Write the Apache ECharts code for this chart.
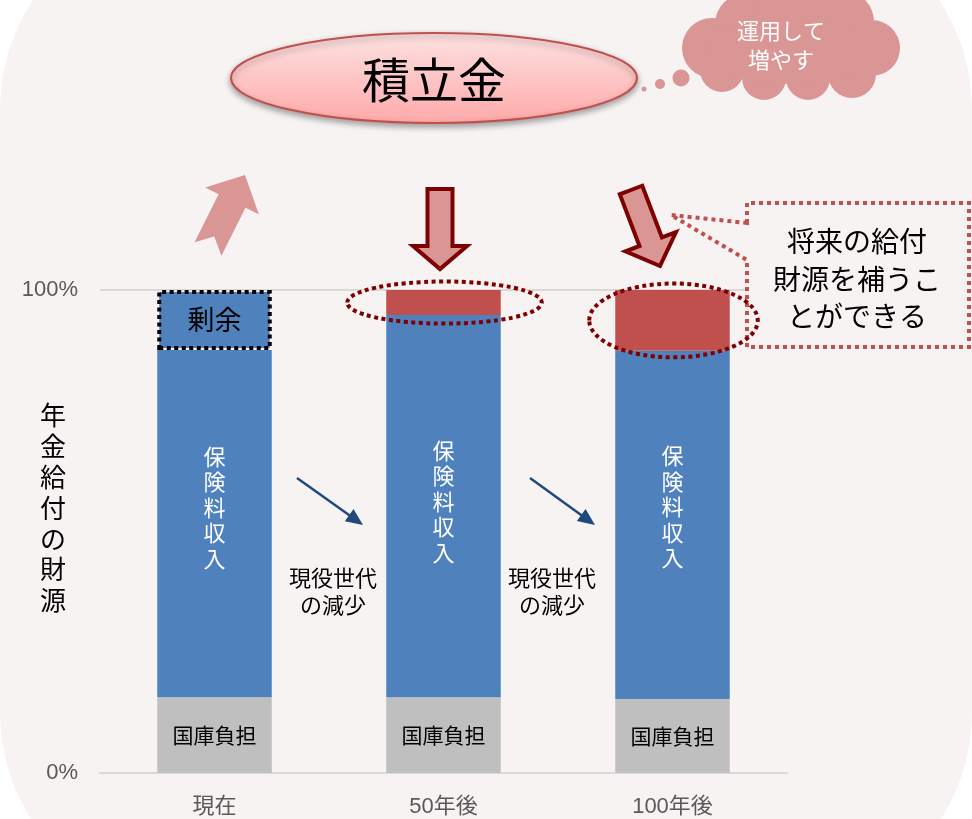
<!DOCTYPE html>
<html>
<head>
<meta charset="utf-8">
<script src="https://cdn.jsdelivr.net/npm/echarts@6/dist/echarts.min.js"></script>
<style>
  html, body { margin: 0; padding: 0; background: #ffffff; }
  #chart { width: 972px; height: 819px; }
</style>
</head>
<body>
<div id="chart"></div>
<script>
// 年金給付の財源（%）
const categories = ['現在', '50年後', '100年後'];
const kokkoFutan = [15.7, 15.7, 15.3];      // 国庫負担
const hokenryoShunyu = [71.9, 79.1, 72.1];  // 保険料収入
const joyo = [12.4, null, null];            // 剰余
const tsumitateHojyu = [null, 5.2, 12.6];   // 積立金で補う分
const yTickValues = [0, 100];

const FONT = '"Noto Sans CJK JP", "Noto Sans", sans-serif';
const NUM_FONT = '"Liberation Sans", "Noto Sans CJK JP", sans-serif';
const BLUE = '#4f81bd', RED = '#c0504d', GRAY = '#bfbfbf';
const PINK = '#d99694', DARK_RED = '#7f0000', NAVY = '#1f497d';
const PANEL = '#f8f3f3';

// vertical label offsets for the 保険料収入 text, one per column
const verticalLabelShift = [-16, -5, -18];
// extra horizontal reach of the dotted rings around the red blocks
const ringPadX = [0, 40, 27];
const ringPadY = [0, 8.5, 6.5];

const chart = echarts.init(document.getElementById('chart'), null, { renderer: 'canvas' });

const vert = s => s.split('').join('\n');

chart.setOption({
  animation: false,
  backgroundColor: '#ffffff',
  grid: { left: 100, right: 185, top: 290, bottom: 46 },
  xAxis: {
    type: 'category',
    data: categories,
    axisTick: { show: false },
    axisLine: { lineStyle: { color: '#d9d9d9', width: 2 } },
    axisLabel: { color: '#595959', fontSize: 22, fontFamily: NUM_FONT, margin: 23 }
  },
  yAxis: {
    type: 'value',
    min: yTickValues[0],
    max: yTickValues[yTickValues.length - 1],
    interval: yTickValues[1] - yTickValues[0],
    axisLine: { show: false },
    axisTick: { show: false },
    splitLine: { lineStyle: { color: '#d9d9d9', width: 2 } },
    axisLabel: { color: '#595959', fontSize: 22, fontFamily: NUM_FONT, margin: 22, formatter: '{value}%' }
  },
  series: [
    {
      name: '国庫負担', type: 'bar', stack: 'zaigen', barWidth: '50%',
      data: kokkoFutan,
      itemStyle: { color: GRAY },
      label: { show: true, position: 'inside', formatter: '国庫負担', color: '#000', fontSize: 21, fontFamily: FONT }
    },
    {
      name: '保険料収入', type: 'bar', stack: 'zaigen',
      data: hokenryoShunyu.map((v, i) => ({
        value: v,
        label: { offset: [0, verticalLabelShift[i]] }
      })),
      itemStyle: { color: BLUE },
      label: {
        show: true, position: 'inside', formatter: vert('保険料収入'),
        color: '#fff', fontSize: 22, lineHeight: 25.5, fontFamily: FONT
      }
    },
    {
      name: '剰余', type: 'bar', stack: 'zaigen',
      data: joyo.map(v => (v == null ? '-' : v)),
      itemStyle: { color: BLUE, borderColor: '#000', borderWidth: 4, borderType: [4, 3.5] },
      label: { show: true, position: 'inside', formatter: '剰余', color: '#000', fontSize: 27, fontFamily: FONT }
    },
    {
      name: '積立金', type: 'bar', stack: 'zaigen',
      data: tsumitateHojyu.map(v => (v == null ? '-' : v)),
      itemStyle: { color: RED }
    }
  ]
});

// ---- annotations ----
function blockArrow(tail, tip, shaftW, headW, headL, notch) {
  const dx = tip[0] - tail[0], dy = tip[1] - tail[1];
  const L = Math.hypot(dx, dy);
  const ux = dx / L, uy = dy / L, px = -uy, py = ux;
  const P = (a, b) => [tail[0] + ux * a + px * b, tail[1] + uy * a + py * b];
  const hb = L - headL;
  return [P(0, -shaftW / 2), P(hb, -shaftW / 2), P(hb, -headW / 2), P(L, 0),
          P(hb, headW / 2), P(hb, shaftW / 2), P(0, shaftW / 2), P(notch || 0, 0)];
}

function lineArrow(from, to, headL, headW) {
  const dx = to[0] - from[0], dy = to[1] - from[1];
  const L = Math.hypot(dx, dy);
  const ux = dx / L, uy = dy / L, px = -uy, py = ux;
  const base = [to[0] - ux * headL, to[1] - uy * headL];
  return [
    { type: 'line', z: 20, shape: { x1: from[0], y1: from[1], x2: base[0] + ux * 2, y2: base[1] + uy * 2 },
      style: { stroke: NAVY, lineWidth: 2.5 } },
    { type: 'polygon', z: 20, shape: { points: [to,
        [base[0] + px * headW / 2, base[1] + py * headW / 2],
        [base[0] - px * headW / 2, base[1] - py * headW / 2]] },
      style: { fill: NAVY } }
  ];
}

const g = [];

// rounded background panel
g.push({ type: 'rect', z: -100, shape: { x: 0, y: -90, width: 972, height: 1002, r: 200 }, style: { fill: PANEL } });

// 積立金 ellipse
g.push({
  type: 'ellipse', z: 10,
  shape: { cx: 434, cy: 78, rx: 203, ry: 45 },
  style: {
    fill: new echarts.graphic.LinearGradient(0, 0, 0, 1, [
      { offset: 0, color: '#fde2e2' }, { offset: 1, color: '#ffa9a9' }
    ]),
    stroke: RED, lineWidth: 2,
    shadowBlur: 6, shadowOffsetY: 3, shadowColor: 'rgba(0,0,0,0.35)'
  }
});
g.push({ type: 'text', z: 11, style: { x: 434, y: 80, text: '積立金', fill: '#000', font: '48px ' + FONT, align: 'center', verticalAlign: 'middle' } });

// thought cloud
const cloudParts = [
  [712, 48, 30], [745, 24, 30], [792, 16, 36], [842, 22, 32], [872, 48, 28],
  [852, 74, 24], [808, 78, 22], [764, 78, 22], [722, 70, 22]
];
cloudParts.forEach(c => g.push({ type: 'circle', z: 10, shape: { cx: c[0], cy: c[1], r: c[2] }, style: { fill: PINK } }));
g.push({ type: 'ellipse', z: 10, shape: { cx: 790, cy: 50, rx: 85, ry: 34 }, style: { fill: PINK } });
[[644, 89, 2.5], [660, 84, 5], [681, 78, 8.5]].forEach(c =>
  g.push({ type: 'circle', z: 10, shape: { cx: c[0], cy: c[1], r: c[2] }, style: { fill: PINK } }));
g.push({ type: 'text', z: 11, style: { x: 781, y: 45, text: '運用して\n増やす', fill: '#fff', font: '22px ' + FONT, lineHeight: 29, align: 'center', verticalAlign: 'middle' } });

// arrows toward / from the fund
g.push({ type: 'polygon', z: 10, shape: { points: blockArrow([208, 249], [245, 175], 30, 60, 29, 14) }, style: { fill: PINK } });
g.push({ type: 'polygon', z: 10, shape: { points: blockArrow([440, 189], [440, 269], 25, 54, 23, 0) },
  style: { fill: PINK, stroke: DARK_RED, lineWidth: 4, lineJoin: 'miter' } });
g.push({ type: 'polygon', z: 10, shape: { points: blockArrow([631, 190], [660, 266], 24, 54, 26, 0) },
  style: { fill: PINK, stroke: DARK_RED, lineWidth: 4, lineJoin: 'miter' } });

// callout
g.push({
  type: 'polygon', z: 10,
  shape: { points: [[747, 223], [747, 203], [969, 203], [969, 347], [747, 347], [747, 260], [671, 215]] },
  style: { fill: PANEL, stroke: RED, lineWidth: 4, lineDash: [4, 4] }
});
g.push({ type: 'text', z: 11, style: { x: 857, y: 279, text: '将来の給付\n財源を補うこ\nとができる', fill: '#000', font: '28px ' + FONT, lineHeight: 37.5, align: 'center', verticalAlign: 'middle' } });

// y-axis title (vertical)
g.push({ type: 'text', z: 11, style: { x: 53, y: 508, text: vert('年金給付の財源'), fill: '#000', font: '26px ' + FONT, lineHeight: 30.8, align: 'center', verticalAlign: 'middle' } });

// shrinking working generation
[[[297, 478], [363, 525], 333], [[530, 478], [595, 525], 552]].forEach(a => {
  lineArrow(a[0], a[1], 17, 15).forEach(e => g.push(e));
  g.push({ type: 'text', z: 11, style: { x: a[2], y: 591, text: '現役世代\nの減少', fill: '#000', font: '22px ' + FONT, lineHeight: 27, align: 'center', verticalAlign: 'middle' } });
});

// dotted rings around the fund-supported blocks, placed from the axis scales
categories.forEach((c, i) => {
  const v = tsumitateHojyu[i];
  if (v == null) return;
  const base = kokkoFutan[i] + hokenryoShunyu[i];
  const top = chart.convertToPixel({ gridIndex: 0 }, [i, base + v]);
  const bot = chart.convertToPixel({ gridIndex: 0 }, [i, base]);
  const catW = chart.convertToPixel({ gridIndex: 0 }, [1, 0])[0] - chart.convertToPixel({ gridIndex: 0 }, [0, 0])[0];
  const halfBar = catW * 0.25;
  g.push({
    type: 'ellipse', z: 12,
    shape: { cx: top[0] + 1, cy: (top[1] + bot[1]) / 2, rx: halfBar + ringPadX[i], ry: (bot[1] - top[1]) / 2 + ringPadY[i] },
    style: { fill: 'none', stroke: DARK_RED, lineWidth: 4, lineDash: [4, 3.5] }
  });
});

chart.setOption({ graphic: { elements: g } });
</script>
</body>
</html>
